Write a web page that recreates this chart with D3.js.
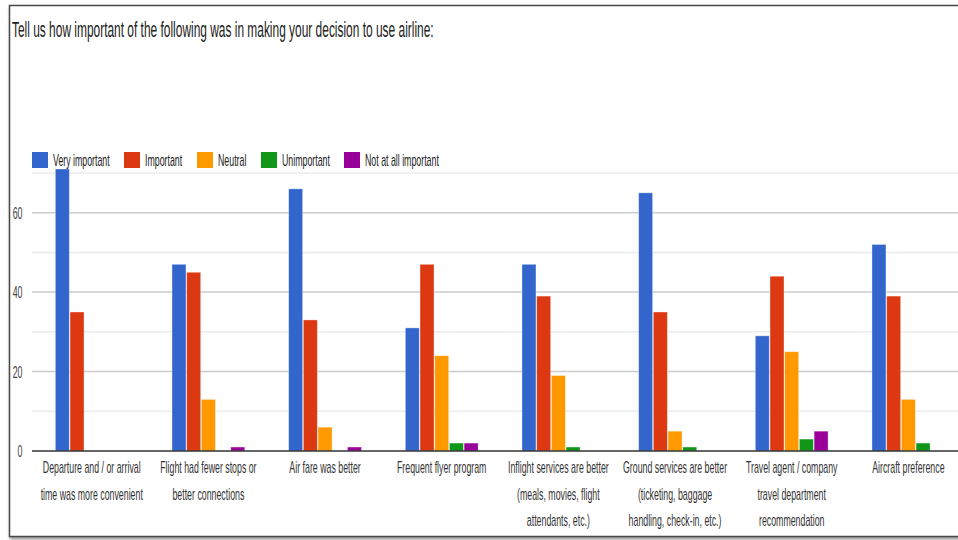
<!DOCTYPE html>
<html>
<head>
<meta charset="utf-8">
<script src="https://cdn.jsdelivr.net/npm/d3@7"></script>
<style>
  html, body { margin: 0; padding: 0; background: #fff; overflow: hidden; }
  text { font-family: "Liberation Sans", Arial, sans-serif; }
</style>
</head>
<body>
<svg id="chart" width="958" height="540"></svg>
<script>
// Survey: importance of factors when choosing an airline
const title = "Tell us how important of the following was in making your decision to use airline:";

const categories = [
  ["Departure and / or arrival", "time was more convenient"],
  ["Flight had fewer stops or", "better connections"],
  ["Air fare was better"],
  ["Frequent flyer program"],
  ["Inflight services are better", "(meals, movies, flight", "attendants, etc.)"],
  ["Ground services are better", "(ticketing, baggage", "handling, check-in, etc.)"],
  ["Travel agent / company", "travel department", "recommendation"],
  ["Aircraft preference"]
];

const seriesNames = ["Very important", "Important", "Neutral", "Unimportant", "Not at all important"];
const veryImportant = [71, 47, 66, 31, 47, 65, 29, 52];
const important     = [35, 45, 33, 47, 39, 35, 44, 39];
const neutral       = [0, 13, 6, 24, 19, 5, 25, 13];
const unimportant   = [0, 0, 0, 2, 1, 1, 3, 2];
const notAtAll      = [0, 1, 1, 2, 0, 0, 5, 0];
const yTicks = [0, 20, 40, 60];
const yGrid = [10, 20, 30, 40, 50, 60, 70];

const seriesColors = ["#3366cc", "#dc3912", "#ff9900", "#109618", "#990099"];
const seriesValues = [veryImportant, important, neutral, unimportant, notAtAll];

// Narrow text: glyphs are condensed horizontally
const SX = 0.55;

const svg = d3.select("#chart");

// Card frame with a soft shadow
const defs = svg.append("defs");
const f = defs.append("filter").attr("id", "shadow")
  .attr("x", "-5%").attr("y", "-5%").attr("width", "110%").attr("height", "110%");
f.append("feDropShadow").attr("dx", 1).attr("dy", 2).attr("stdDeviation", 1.5)
  .attr("flood-color", "#000").attr("flood-opacity", 0.45);

svg.append("rect")
  .attr("x", 9.5).attr("y", 5.5).attr("width", 1000).attr("height", 531)
  .attr("fill", "#fff").attr("stroke", "#4a4a4a").attr("stroke-width", 1.5)
  .attr("filter", "url(#shadow)");

function squeezed(sel, x, y) {
  return sel.attr("transform", `translate(${x},${y}) scale(${SX},1)`);
}

// Title
squeezed(svg.append("text"), 12, 37)
  .attr("font-size", 21.7).attr("fill", "#222").text(title);

// Scales
const plotLeft = 33.4, plotRight = 966.7;
const keys = categories.map(c => c.join(" "));
const x0 = d3.scaleBand().domain(keys).range([plotLeft, plotRight]).padding(0);
const groupW = x0.bandwidth() * 0.63;
const x1 = d3.scaleBand().domain(seriesNames).range([0, groupW]).padding(0);
const y = d3.scaleLinear().domain([0, 70]).range([451, 172.95]);

// Gridlines
const gridLeft = 32, gridRight = 958;
svg.append("g").selectAll("line").data(yGrid).join("line")
  .attr("x1", gridLeft).attr("x2", gridRight)
  .attr("y1", d => y(d)).attr("y2", d => y(d))
  .attr("stroke", d => d % 20 === 0 ? "#cccccc" : "#ebebeb")
  .attr("stroke-width", 1.5);

// Y tick labels
svg.append("g").selectAll("text").data(yTicks).join("text")
  .each(function (d) { squeezed(d3.select(this), 22.5, y(d) + 6); })
  .attr("text-anchor", "end").attr("font-size", 16).attr("fill", "#444")
  .text(d => d);

// Bars
const groups = svg.append("g").selectAll("g").data(keys).join("g")
  .attr("transform", k => `translate(${x0(k) + (x0.bandwidth() - groupW) / 2},0)`);

groups.selectAll("rect")
  .data((k, i) => seriesNames.map((s, j) => ({ s, v: seriesValues[j][i], c: seriesColors[j] })))
  .join("rect")
  .filter(d => d.v > 0)
  .attr("x", d => x1(d.s) + 0.35)
  .attr("width", x1.bandwidth() - 0.7)
  .attr("y", d => y(d.v))
  .attr("height", d => y(0) - y(d.v))
  .attr("fill", d => d.c)
  .attr("stroke", "rgba(255,255,255,0.45)")
  .attr("stroke-width", 0.8);

// Baseline
svg.append("line")
  .attr("x1", gridLeft).attr("x2", gridRight)
  .attr("y1", y(0)).attr("y2", y(0))
  .attr("stroke", "#333").attr("stroke-width", 1.5);

// Category labels
const labelG = svg.append("g");
categories.forEach((lines, i) => {
  const cx = x0(keys[i]) + x0.bandwidth() / 2;
  lines.forEach((ln, j) => {
    squeezed(labelG.append("text"), cx, 473 + j * 26.5)
      .attr("text-anchor", "middle").attr("font-size", 16).attr("fill", "#333")
      .text(ln);
  });
});

// Legend
const legendX = [32, 124, 197, 261, 344];
const leg = svg.append("g");
seriesNames.forEach((s, i) => {
  leg.append("rect").attr("x", legendX[i]).attr("y", 152).attr("width", 16).attr("height", 16)
    .attr("fill", seriesColors[i]);
  squeezed(leg.append("text"), legendX[i] + 21, 166)
    .attr("font-size", 16).attr("fill", "#222").text(s);
});
</script>
</body>
</html>
